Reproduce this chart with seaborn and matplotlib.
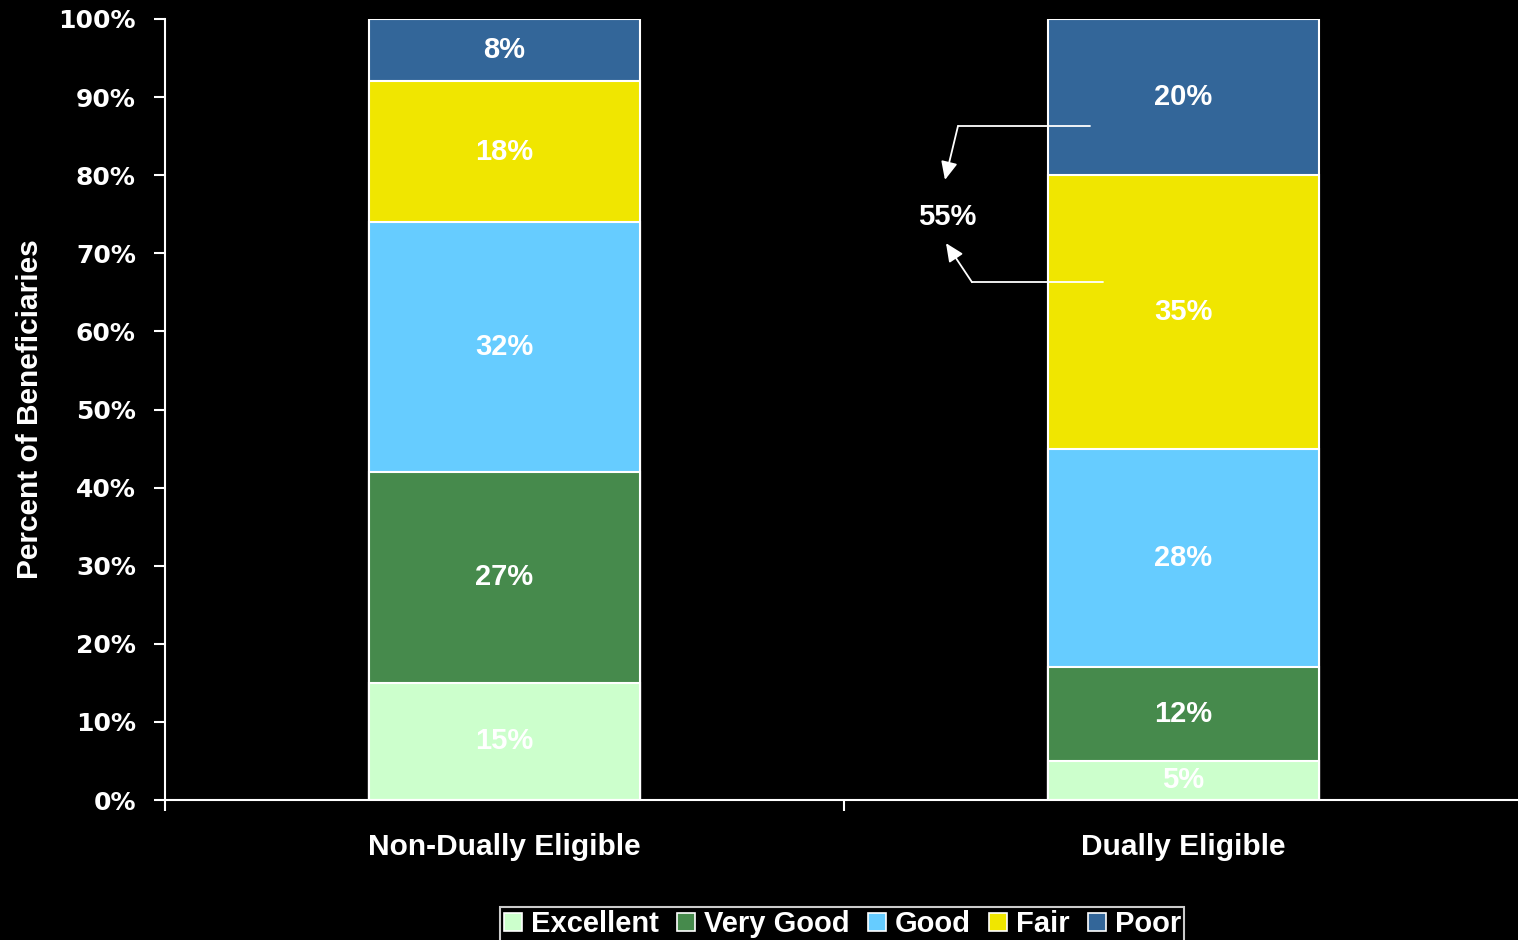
import numpy as np
import pandas as pd
import matplotlib
matplotlib.use("Agg")
import matplotlib.pyplot as plt
import seaborn as sns
from matplotlib.lines import Line2D

# Self-reported health status by dual-eligibility group (percent of beneficiaries)
groups = ["Non-Dually Eligible", "Dually Eligible"]
statuses = ["Excellent", "Very Good", "Good", "Fair", "Poor"]
excellent = [15, 5]
very_good = [27, 12]
good = [32, 28]
fair = [18, 35]
poor = [8, 20]
fair_or_poor_label = "55%"

colors = {
    "Excellent": "#CCFFCC",
    "Very Good": "#468A4C",
    "Good": "#66CCFF",
    "Fair": "#F0E600",
    "Poor": "#336699",
}

sns.set_style("dark", {"axes.facecolor": "black", "figure.facecolor": "black"})
plt.rcParams["font.family"] = ["Liberation Sans", "DejaVu Sans"]

values = pd.DataFrame(
    {"Excellent": excellent, "Very Good": very_good, "Good": good,
     "Fair": fair, "Poor": poor},
    index=groups,
)
cumulative = values.cumsum(axis=1)

fig = plt.figure(figsize=(15.18, 9.4), dpi=100, facecolor="black")
ax = fig.add_axes([165 / 1518, 1 - 800 / 940, 1358 / 1518, 781 / 940])
ax.set_facecolor("black")

# Stacked bars: draw cumulative totals from the top segment downward
for status in reversed(statuses):
    sns.barplot(
        x=groups, y=cumulative[status].values, color=colors[status],
        width=0.4, edgecolor="white", linewidth=1.5, saturation=1,
        ax=ax, zorder=2,
    )

# Segment value labels
for i, g in enumerate(groups):
    base = 0
    for status in statuses:
        v = values.loc[g, status]
        ax.text(i, base + v / 2, f"{v}%", ha="center", va="center",
                color="white", fontsize=21, fontweight="bold", zorder=5)
        base += v

# Bracket arrows for the Fair + Poor share of dually eligible
arrow_style = dict(arrowstyle="-|>,head_length=1.1,head_width=0.5",
                   color="white", lw=1.3, shrinkA=0, shrinkB=0)
ax.plot([0.8623, 0.6679], [86.3, 86.3], color="white", lw=1.3, zorder=4,
        clip_on=False)
ax.annotate("", xy=(0.6487, 79.4), xytext=(0.6679, 86.3),
            arrowprops=arrow_style)
ax.plot([0.8815, 0.6885], [66.3, 66.3], color="white", lw=1.3, zorder=4,
        clip_on=False)
ax.annotate("", xy=(0.6502, 71.3), xytext=(0.6885, 66.3),
            arrowprops=arrow_style)
ax.text(0.652, 74.6, fair_or_poor_label, ha="center", va="center",
        color="white", fontsize=21, fontweight="bold")

# Axes styling
ax.set_xlim(-0.5, 1.5)
ax.set_ylim(0, 100)
ax.set_yticks(np.arange(0, 101, 10))
ax.set_yticklabels([f"{t}%" for t in range(0, 101, 10)],
                   family=["DejaVu Sans"], fontweight="bold", fontsize=18,
                   color="white")
ax.tick_params(axis="y", which="major", direction="out", length=8, width=1.5,
               color="white", left=True, pad=13)
ax.set_xticks([0, 1])
ax.set_xticklabels(groups, fontsize=21.5, fontweight="bold", color="white")
ax.tick_params(axis="x", which="major", length=0, pad=24)
ax.set_xticks([-0.5, 0.5], minor=True)
ax.tick_params(axis="x", which="minor", direction="out", length=8, width=1.5,
               color="white", bottom=True)
ax.grid(False)
for side in ["top", "right"]:
    ax.spines[side].set_visible(False)
for side in ["left", "bottom"]:
    ax.spines[side].set_visible(True)
    ax.spines[side].set_color("white")
    ax.spines[side].set_linewidth(1.5)

ax.set_xlabel("")
ax.set_ylabel("Percent of Beneficiaries", color="white", fontsize=21.5,
              fontweight="bold")
ax.yaxis.set_label_coords(-0.089, 0.5)

# Legend along the bottom edge
handles = [
    Line2D([], [], marker="s", linestyle="none", markersize=12.5,
           markerfacecolor=colors[s], markeredgecolor="white",
           markeredgewidth=1.2, label=s)
    for s in statuses
]
leg = fig.legend(
    handles=handles, loc="upper center", ncol=5,
    bbox_to_anchor=(842 / 1518, 1 - 892 / 940),
    frameon=True, facecolor="black", edgecolor="white", fancybox=False,
    handlelength=0.7, handletextpad=0.25, columnspacing=0.6,
    borderpad=0.12,
    prop={"weight": "bold", "size": 21},
)
leg.get_frame().set_linewidth(1.5)
for t in leg.get_texts():
    t.set_color("white")

fig.savefig("out.png", dpi=100, facecolor="black")
